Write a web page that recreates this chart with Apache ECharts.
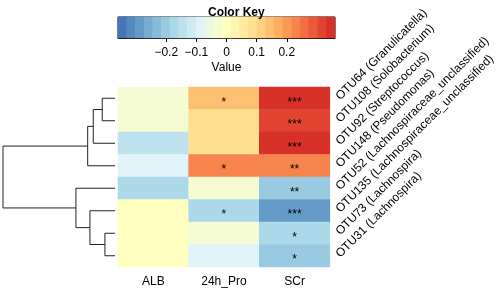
<!DOCTYPE html>
<html>
	<head>
		<meta charset="utf-8">
		<title>heatmap</title>
		<script src="https://cdn.jsdelivr.net/npm/echarts@6/dist/echarts.min.js"></script>
	</head>
	<body style="margin:0">
		<div id="box" style="width: 498px;height: 288px;"></div>
		<script>
			// rows from top to bottom, same order as the dendrogram leaves
			var rows = ['OTU64 (Granulicatella)', 'OTU108 (Solobacterium)', 'OTU92 (Streptococcus)', 'OTU148 (Pseudomonas)',
				'OTU52 (Lachnospiraceae_unclassified)', 'OTU135 (Lachnospiraceae_unclassified)', 'OTU73 (Lachnospira)', 'OTU31 (Lachnospira)']
			var cols = ['ALB', '24h_Pro', 'SCr']
			var alb = [-0.04, -0.02, -0.14, -0.09, -0.17, 0.0, 0.0, 0.0]
			var pro = [0.14, 0.10, 0.09, 0.22, -0.02, -0.17, -0.04, -0.09]
			var scr = [0.35, 0.31, 0.35, 0.24, -0.19, -0.29, -0.17, -0.20]
			var sigAlb = ['', '', '', '', '', '', '', '']
			var sigPro = ['*', '', '', '*', '', '*', '', '']
			var sigScr = ['***', '***', '***', '**', '**', '***', '*', '*']
			// hclust style merges: negative = leaf (1-based row), positive = earlier merge
			var merges = [[-1, -2], [-7, -8], [1, -3], [-6, 2], [3, -4], [-5, 4], [5, 6]]
			var heights = [0.114, 0.090, 0.194, 0.224, 0.244, 0.349, 1.0]
			var keyTicks = [-0.2, -0.1, 0, 0.1, 0.2]
			var keyMin = -0.36, keyMax = 0.36, keySteps = 25
			var palette = ['#4575b4', '#74add1', '#abd9e9', '#e0f3f8', '#ffffbf', '#fee090', '#fdae61', '#f46d43', '#d73027']

			var cells = []
			var colVals = [alb, pro, scr]
			var colSig = [sigAlb, sigPro, sigScr]
			for (var c = 0; c < cols.length; c++) {
				for (var r = 0; r < rows.length; r++) {
					cells.push({value: [c, r, colVals[c][r]], sig: colSig[c][r]})
				}
			}

			// colour key cells (centre of each break)
			var keyCells = []
			var step = (keyMax - keyMin) / keySteps
			for (var i = 0; i < keySteps; i++) {
				keyCells.push([i, 0, keyMin + step * (i + 0.5)])
			}

			// dendrogram segments
			var nodePos = [] // [height, y]
			function pos(id) {
				if (id < 0) return [0, -id - 1]
				return nodePos[id - 1]
			}
			var segs = []
			for (var m = 0; m < merges.length; m++) {
				var a = pos(merges[m][0]), b = pos(merges[m][1]), h = heights[m]
				segs.push({coords: [[a[0], a[1]], [h, a[1]], [h, b[1]], [b[0], b[1]]]})
				nodePos.push([h, (a[1] + b[1]) / 2])
			}

			var font = 'Liberation Sans, Arial, sans-serif'
			var mCharts = echarts.init(document.querySelector('#box'))
			var option = {
				animation: false,
				textStyle: {fontFamily: font},
				title: {
					text: 'Color Key', left: 203, top: 2,
					textStyle: {fontSize: 12, fontWeight: 'bold', color: '#000', fontFamily: font}
				},
				visualMap: {
					type: 'piecewise', show: false,
					min: keyMin, max: keyMax, splitNumber: keySteps,
					dimension: 2, seriesIndex: [0, 1],
					inRange: {color: palette}
				},
				grid: [
					{left: 118, top: 87, right: 163, bottom: 21},
					{left: 118, top: 17, width: 217, height: 21, show: true, borderColor: '#000', borderWidth: 1},
					{left: 3, top: 87, width: 112, bottom: 21}
				],
				xAxis: [
					{
						type: 'category', data: cols, gridIndex: 0,
						axisLine: {show: false}, axisTick: {show: false},
						axisLabel: {fontSize: 12, color: '#000', margin: 9}
					},
					{type: 'category', gridIndex: 1, data: keyCells.map(function (d) { return d[0] }), show: false},
					{
						type: 'value', gridIndex: 1, min: keyMin, max: keyMax, position: 'bottom',
						splitLine: {show: false},
						axisLine: {show: true, lineStyle: {color: '#000'}},
						axisTick: {show: true, length: 4, lineStyle: {color: '#000'}, customValues: keyTicks},
						axisLabel: {
							fontSize: 12, color: '#000', margin: 9, customValues: keyTicks,
							formatter: function (v) { return String(Math.round(v * 10) / 10).replace('-', '\u2212') }
						},
						name: 'Value', nameLocation: 'middle', nameGap: 24,
						nameTextStyle: {fontSize: 12, color: '#000'}
					},
					{type: 'value', gridIndex: 2, min: 0, max: 1, inverse: true, show: false}
				],
				yAxis: [
					{
						type: 'category', data: rows, gridIndex: 0, inverse: true, position: 'right',
						axisLine: {show: false}, axisTick: {show: false},
						axisLabel: {fontSize: 12, color: '#000', rotate: 45, margin: 8, interval: 0}
					},
					{type: 'category', gridIndex: 1, data: ['k'], show: false},
					{type: 'value', gridIndex: 2, min: -0.5, max: 7.5, inverse: true, show: false}
				],
				series: [
					{
						type: 'heatmap', xAxisIndex: 0, yAxisIndex: 0,
						data: cells,
						label: {
							show: true, fontSize: 12, color: '#000', offset: [0, 4],
							formatter: function (p) { return p.data.sig }
						},
						itemStyle: {borderWidth: 0}
					},
					{
						type: 'heatmap', xAxisIndex: 1, yAxisIndex: 1,
						data: keyCells
					},
					{
						type: 'lines', coordinateSystem: 'cartesian2d', xAxisIndex: 3, yAxisIndex: 2,
						polyline: true, silent: true,
						lineStyle: {color: '#222', width: 1, opacity: 1},
						data: segs
					}
				]
			}
			mCharts.setOption(option)
		</script>
	</body>
</html>
